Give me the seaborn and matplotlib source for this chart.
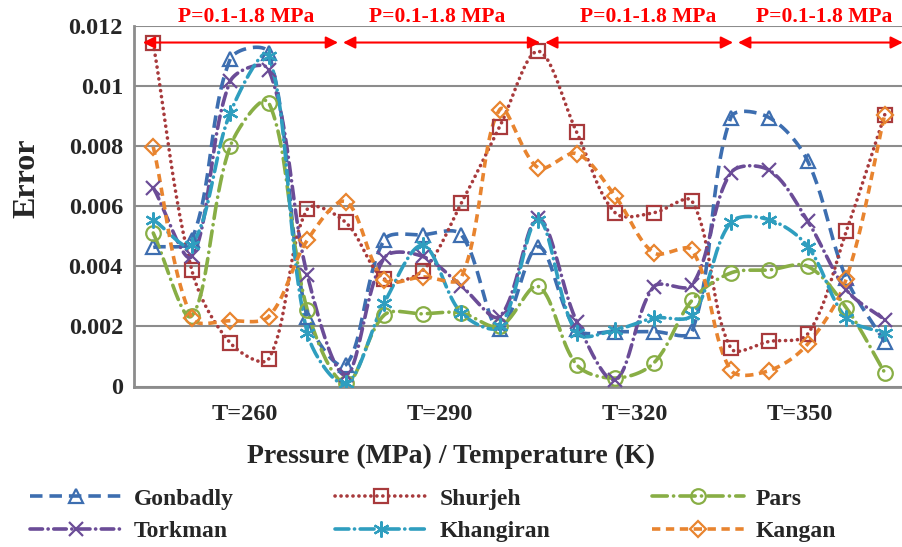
import numpy as np
import pandas as pd
import matplotlib
matplotlib.use("Agg")
import matplotlib.pyplot as plt
from matplotlib.lines import Line2D
import seaborn as sns

# ---------------- data ----------------
series_names = ["Gonbadly", "Shurjeh", "Pars", "Torkman", "Khangiran", "Kangan"]
temperatures = ["T=260", "T=290", "T=320", "T=350"]
pressure_label = "P=0.1-1.8 MPa"

gonbadly = [0.00463, 0.00488, 0.0109, 0.0111, 0.0023, 0.00072, 0.00488, 0.00505, 0.00505, 0.0019,
            0.00466, 0.0019, 0.00183, 0.00183, 0.00185, 0.00895, 0.00895, 0.0075, 0.0036, 0.00148]
shurjeh = [0.01142, 0.00388, 0.00145, 0.00092, 0.0059, 0.00546, 0.00358, 0.00386, 0.0061, 0.00865,
           0.01116, 0.00846, 0.00578, 0.00578, 0.00616, 0.00128, 0.0015, 0.00175, 0.00516, 0.00905]
pars = [0.00511, 0.00235, 0.008, 0.00945, 0.00255, 0.0001, 0.00238, 0.00242, 0.00245, 0.002,
        0.00333, 0.00072, 0.00028, 0.00078, 0.00288, 0.00378, 0.00388, 0.004, 0.00262, 0.00046]
torkman = [0.00662, 0.00433, 0.01016, 0.01055, 0.00372, 0.00038, 0.00428, 0.00433, 0.00335, 0.00233,
           0.0056, 0.00216, 0.00022, 0.00332, 0.00338, 0.00711, 0.0072, 0.0055, 0.00322, 0.00222]
khangiran = [0.00555, 0.00472, 0.00911, 0.011, 0.00178, 0.0001, 0.00278, 0.0047, 0.00245, 0.002,
             0.00555, 0.00178, 0.00188, 0.00228, 0.00238, 0.00546, 0.00555, 0.00466, 0.00228, 0.00178]
kangan = [0.00798, 0.00228, 0.00219, 0.00233, 0.00487, 0.00615, 0.00355, 0.00365, 0.00362, 0.00922,
          0.00728, 0.00775, 0.00633, 0.00445, 0.00453, 0.00055, 0.00053, 0.00142, 0.00358, 0.00905]
y_ticks = [0, 0.002, 0.004, 0.006, 0.008, 0.01, 0.012]
y_tick_labels = ["0", "0.002", "0.004", "0.006", "0.008", "0.01", "0.012"]

values = [gonbadly, shurjeh, pars, torkman, khangiran, kangan]
n = len(gonbadly)
idx = np.arange(n)
df = pd.DataFrame({name: v for name, v in zip(series_names, values)})
df["point"] = idx

# ---------------- styles ----------------
styles = {
    "Gonbadly":  dict(color="#3D6EB0", ls=(0, (9, 5)), marker="^", ms=10, lw=2.6, cap="butt"),
    "Shurjeh":   dict(color="#A83A3C", ls=(0, (0.1, 4.2)), marker="s", ms=9.5, lw=2.6, cap="round"),
    "Pars":      dict(color="#88AE45", ls=(0, (11, 4.5, 0.1, 4.5)), marker="o", ms=10.5, lw=2.6, cap="round"),
    "Torkman":   dict(color="#6B4C97", ls=(0, (9, 4, 0.1, 4)), marker="x", ms=9.5, lw=2.6, cap="round"),
    "Khangiran": dict(color="#2F9EBF", ls=(0, (10, 4, 0.1, 4)), marker=(6, 2, 0), ms=11.5, lw=2.6, cap="round"),
    "Kangan":    dict(color="#E8842F", ls=(0, (6, 4)), marker="D", ms=8, lw=2.6, cap="butt"),
}

plt.rcParams["lines.scale_dashes"] = False
sns.set_theme(style="white")
plt.rcParams["font.family"] = ["Liberation Serif", "DejaVu Serif"]
plt.rcParams["font.weight"] = "bold"

PX_X = 38.5      # screen pixels per category
PX_Y = 30000.0   # screen pixels per unit of error


def smooth(xs, ys, k=24):
    """Excel-style smoothed line: Bezier segments, control points from neighbours
    weighted by on-screen segment lengths."""
    P = np.column_stack([np.asarray(xs, float) * PX_X, np.asarray(ys, float) * PX_Y])
    out = [P[0]]
    t = np.linspace(0, 1, k + 1)[1:][:, None]
    m = len(P)
    for i in range(m - 1):
        p0 = P[i - 1] if i > 0 else P[i]
        p1 = P[i]
        p2 = P[i + 1]
        p3 = P[i + 2] if i + 2 < m else P[i + 1]
        d01 = np.linalg.norm(p1 - p0)
        d12 = np.linalg.norm(p2 - p1)
        d23 = np.linalg.norm(p3 - p2)
        fa = d12 / (d01 + d12) / 3 if d01 + d12 > 0 else 0
        fb = d12 / (d12 + d23) / 3 if d12 + d23 > 0 else 0
        c1 = p1 + (p2 - p0) * fa
        c2 = p2 - (p3 - p1) * fb
        seg = ((1 - t) ** 3) * p1 + 3 * ((1 - t) ** 2) * t * c1 + 3 * (1 - t) * t ** 2 * c2 + t ** 3 * p2
        out.extend(seg)
    out = np.array(out)
    return out[:, 0] / PX_X, out[:, 1] / PX_Y


fig = plt.figure(figsize=(9.02, 5.47), dpi=100)
ax = fig.add_axes([134 / 902, 1 - 386.5 / 547, 770 / 902, 360.5 / 547])

handles = []
for name in series_names:
    st = styles[name]
    sx, sy = smooth(df["point"], df[name])
    sm = pd.DataFrame({"x": sx, "y": sy})
    sns.lineplot(data=sm, x="x", y="y", ax=ax, sort=False, estimator=None,
                 color=st["color"], lw=st["lw"], linestyle=st["ls"],
                 dash_capstyle=st["cap"], legend=False)
    mkw = dict(marker=st["marker"], markersize=st["ms"], markeredgewidth=1.6,
               markeredgecolor=st["color"], markerfacecolor="none")
    ax.plot(df["point"], df[name], ls="none", **mkw, zorder=4)
    handles.append(Line2D([0], [0], color=st["color"], lw=st["lw"], linestyle=st["ls"],
                          dash_capstyle=st["cap"], label=name, **mkw))

ax.set_xlim(-0.5, n - 0.5)
ax.set_ylim(0, 0.012)
ax.set_yticks(y_ticks)
ax.set_yticklabels(y_tick_labels, fontsize=17.5, fontweight="bold")
ax.set_xticks([])
ax.tick_params(axis="y", length=0, pad=8)
ax.grid(axis="y", color="#8C8C8C", lw=1.5)
ax.set_axisbelow(True)
for s in ["top", "right"]:
    ax.spines[s].set_visible(False)
for s in ["left", "bottom"]:
    ax.spines[s].set_color("#8C8C8C")
    ax.spines[s].set_linewidth(2)
ax.set_xlabel("")
ax.set_ylabel("")

# temperature group labels
for lab, xp in zip(temperatures, [2.38, 7.45, 12.51, 16.8]):
    ax.text(xp, -0.077, lab, transform=ax.get_xaxis_transform(), ha="center", va="center",
            fontsize=17.5, fontweight="bold")

# pressure range arrows and labels
arrow_spans = [(-0.27, 4.8), (4.93, 10.05), (10.18, 15.06), (15.19, 19.47)]
for (a, b) in arrow_spans:
    ax.annotate("", xy=(a, 0.01145), xytext=(b, 0.01145), xycoords="data",
                arrowprops=dict(arrowstyle="<|-|>", color="#FF0000", lw=1.5,
                                mutation_scale=18, shrinkA=0, shrinkB=0),
                annotation_clip=False, zorder=6)
for xp in [2.41, 7.38, 12.86, 17.42]:
    ax.text(xp, 1.026, pressure_label, transform=ax.get_xaxis_transform(), ha="center",
            va="center", fontsize=15.5, fontweight="bold", color="#FF0000")

fig.text(451 / 902, 1 - 456 / 547, "Pressure (MPa) / Temperature (K)", ha="center", va="center",
         fontsize=20, fontweight="bold")
fig.text(27 / 902, 1 - 178 / 547, "Error", ha="center", va="center", rotation=90,
         fontsize=23, fontweight="bold")

order = ["Gonbadly", "Torkman", "Shurjeh", "Khangiran", "Pars", "Kangan"]
hmap = {h.get_label(): h for h in handles}
leg = fig.legend([hmap[o] for o in order], order, ncol=3, loc="center",
                 bbox_to_anchor=(433 / 902, 1 - 515 / 547), frameon=False,
                 prop=dict(family="Liberation Serif", weight="bold", size=17),
                 handlelength=3.9, handletextpad=0.5, columnspacing=4.3, labelspacing=0.45)

fig.savefig("out.png", dpi=100)
